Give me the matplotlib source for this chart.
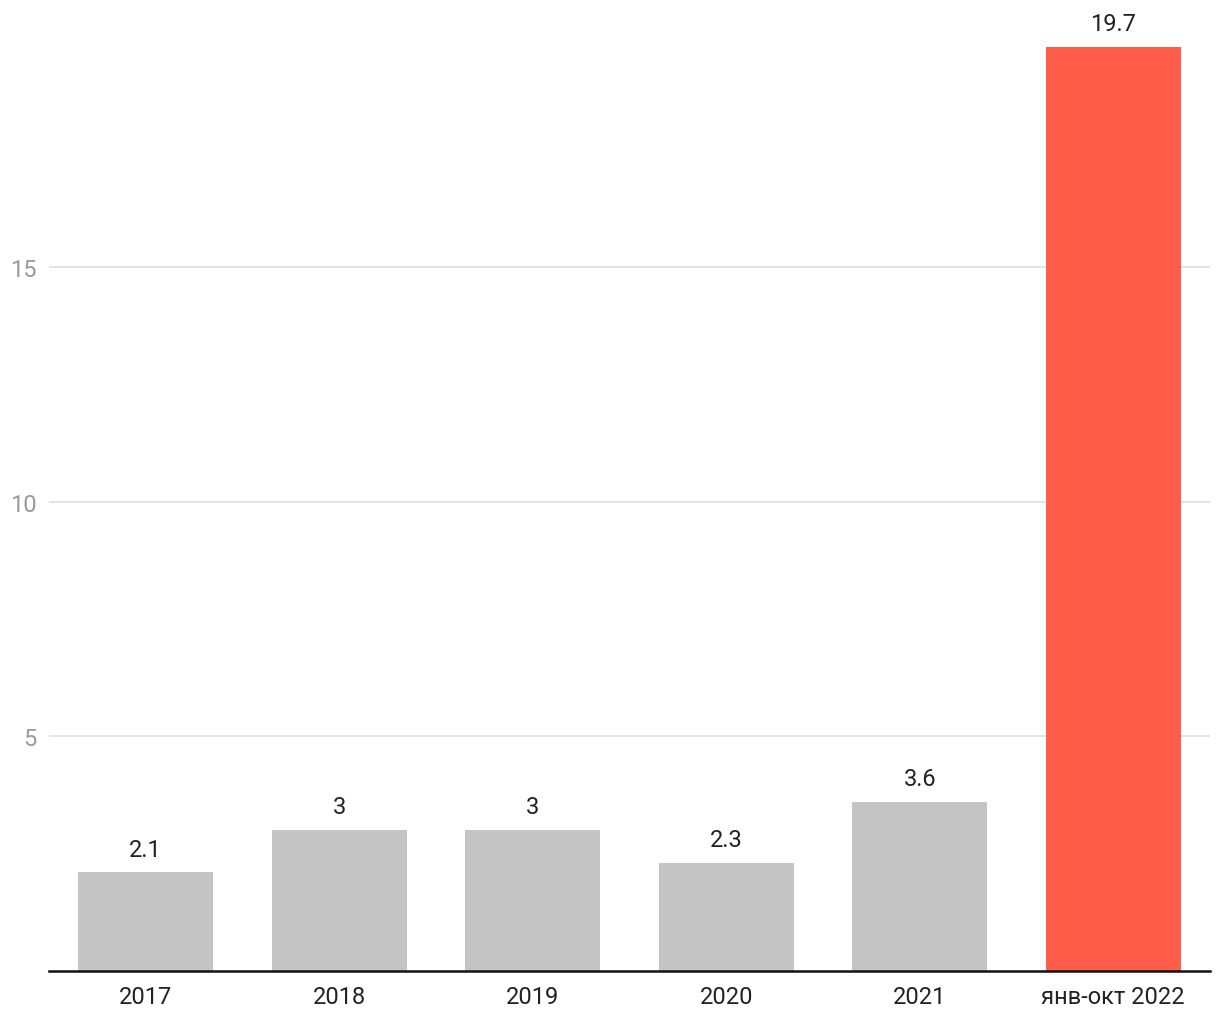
import matplotlib
matplotlib.use("Agg")
import matplotlib.pyplot as plt

categories = ["2017", "2018", "2019", "2020", "2021", "янв-окт 2022"]
values = [2.1, 3.0, 3.0, 2.3, 3.6, 19.7]
value_labels = ["2.1", "3", "3", "2.3", "3.6", "19.7"]
yticks = [5, 10, 15]

plt.rcParams['font.family'] = ['Roboto', 'DejaVu Sans']

fig = plt.figure(figsize=(12.2, 10.2), dpi=100)
W, H = 1220, 1020
x0, x1 = 49, 1210
ybase, ytop_px = 972, 10
ax = fig.add_axes([x0 / W, (H - ybase) / H, (x1 - x0) / W, (ybase - ytop_px) / H])

colors = ["#c4c4c4"] * 5 + ["#ff5c4a"]
xs = list(range(len(categories)))
bars = ax.bar(xs, values, width=0.70, color=colors, zorder=2)
for b, lab in zip(bars, value_labels):
    ax.annotate(lab, (b.get_x() + b.get_width() / 2, b.get_height()),
                xytext=(0, 8.5), textcoords="offset points",
                ha="center", va="bottom", fontsize=17, color="#222222")

ax.set_xlim(-0.5, len(categories) - 0.5)
ax.set_ylim(0, 20.5)
ax.set_xticks(xs)
ax.set_xticklabels(categories, fontsize=17, color="#222222")
ax.set_yticks(yticks)
ax.set_yticklabels([str(t) for t in yticks], fontsize=17, color="#9a9a9a")
ax.tick_params(axis="x", length=0, pad=10)
ax.tick_params(axis="y", length=0, pad=9)
ax.grid(axis="y", color="#e0e0e0", linewidth=1.3, zorder=0)
for s in ["top", "right", "left"]:
    ax.spines[s].set_visible(False)
ax.spines["bottom"].set_color("#111111")
ax.spines["bottom"].set_linewidth(1.8)
ax.spines["bottom"].set_zorder(3)

fig.savefig("out.png", dpi=100, facecolor="white")
